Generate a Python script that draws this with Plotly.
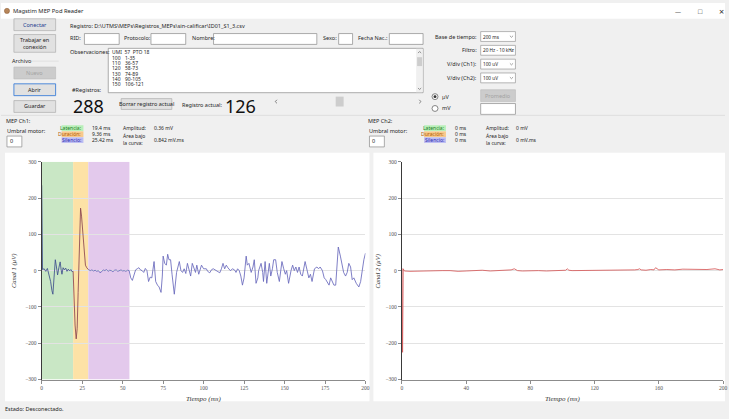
import plotly.graph_objects as go

W, H = 729, 419

# ---------------- data ----------------
t_ch1 = [0, 0.5, 1.5, 2.5, 3.5, 4.5, 5.5, 6.3, 6.9, 7.6, 8.4, 9.1, 9.8, 10.6, 11.4, 12.0, 12.5, 13.2,
         14.0, 14.8, 15.6, 16.4, 17.2, 18.0, 18.8, 19.4,
         20.0, 20.6, 21.3, 21.9, 22.5, 23.2, 24.0, 24.6, 25.4, 26.2, 27.0, 27.8, 28.8,
         30, 31, 32, 33, 34, 35, 36, 37, 38, 39, 40, 41, 42, 43, 44, 45, 46, 47, 48, 49, 50, 51, 52, 53, 54,
         55, 56, 57, 58, 59, 60, 61, 62, 63, 64, 65, 66, 67, 68, 69.4, 70.4, 71.5, 72.5, 73.7, 74.5, 75, 76,
         77, 77.8, 78.6, 79.6, 80.5, 81.9, 83.3, 84.2, 85, 86, 87, 88, 89, 90, 91, 92, 93, 94, 95, 95.8, 97,
         98.7, 100, 101.7, 102.5, 103.8, 105, 106, 107.9, 109, 110, 111, 112, 113, 114, 115, 116.5, 118,
         119.5, 120, 121, 122, 123, 124, 125, 126.3, 127, 128, 129.4, 130.5, 131.3, 132.4, 133.5, 134,
         135.5, 136.5, 137, 138, 139, 140.6, 141.5, 142.5, 143.3, 144.5, 145.5, 146.8, 148.4, 149.5, 150.5,
         151.3, 152.5, 154, 155, 156, 157, 158, 159, 160, 161, 162.7, 164, 165, 166, 167, 168.5, 170, 171,
         172, 173.4, 174.5, 175.5, 177.5, 178.5, 179.5, 180.5, 181.6, 183.2, 184.5, 185.5, 186.5, 187.7,
         188.7, 189.7, 190.8, 191.8, 192.8, 194.3, 195.9, 197, 197.9, 199, 200]
v_ch1 = [235, 3, 5, -2, 6, -10, -30, -55, -65, -20, 30, 10, -12, 8, 24, 2, -10, 8,
         2, 7, -2, 4, -1, 3, -3, -2,
         -80, -150, -188, -160, -60, 60, 172, 150, 100, 40, 15, 8, 3,
         0, 2, -1, 1, -2, 0, -6, -3, 2, 0, 3, -2, 1, 0, -3, 1, 2, -2, 0, 2, -1, 0, -2, 1, 0,
         -20, -27, -10, 2, 5, 8, 2, 0, -5, 6, 0, -30, -18, -20, 25, -30, -40, -45, -60, -15, 40, 20,
         15, 45, 30, 30, -10, -65, -5, 15, 25, 0, -5, 5, -8, 20, 5, -15, 20, 8, -5, 15, -10,
         15, 5, 5, -2, -6, 3, 5, 0, -2, -6, 5, 20, 5, 15, 8, 0, 5,
         0, -5, 5, 0, -15, -40, -20, 40, 15, 20, -5, 10, 30, -35, -20, 0,
         20, -5, -30, 25, -35, 20, -15, 5, 30, 30, -5, -30, 25, 5, -10,
         0, -35, 0, 15, 0, 10, -5, 10, -10, -15, 25, -5, -20, -10, -30, 5, 10, 5,
         10, 0, -20, -25, -40, -20, -30, -40, -40, 65, 40, 20, -5, -15,
         -5, 20, 10, -25, -20, -35, -45, -30, 0, 30, 48]

t_ch2 = [0, 0.4, 0.8, 1.5, 5, 10, 15, 20, 25, 30, 35, 40, 45, 50, 55, 60, 65, 68, 70, 72, 75, 80, 85,
         90, 95, 100, 102, 103, 104, 106, 110, 115, 120, 125, 130, 135, 140, 145, 147, 148, 149, 152,
         155, 157, 158, 160, 165, 170, 175, 180, 185, 190, 195, 198, 200]
v_ch2 = [6, -225, 5, -1, -2, -1, 0, 1, 0, 0, -2, -1, 0, 1, -1, 0, 1, 2, 5, 0, -1, 0, 0,
         -1, 0, 0, 1, 5, 1, 0, 0, 1, 0, 0, 1, 0, 1, 2, 3, 5, 2, 1,
         3, 2, 8, 2, 3, 2, 4, 3, 3, 3, 5, 2, 3]

latencia_ms = 19.4
duracion_ms = 9.36
silencio_ms = 25.42

x1_ticks = [0, 25, 50, 75, 100, 125, 150, 175, 200]
x2_ticks = [0, 40, 80, 120, 160, 200]
y_ticks = [-300, -200, -100, 0, 100, 200, 300]

obs_lines = [("UMI  57  PTO 18", ""), ("100", "1-35"), ("110", "36-57"), ("120", "58-73"),
             ("130", "74-89"), ("140", "90-105"), ("150", "106-121")]

# ---------------- helpers ----------------
UI = "Noto Sans"
SERIF = "Liberation Serif"
shapes, ann = [], []


def PX(x):
    return x / W


def PY(y):
    return 1 - y / H


def rect(x0, y0, x1, y1, fill="white", line="#8a8a8a", lw=0.7):
    shapes.append(dict(type="rect", xref="paper", yref="paper", x0=PX(x0), x1=PX(x1),
                       y0=PY(y1), y1=PY(y0), fillcolor=fill,
                       line=dict(color=line, width=lw), layer="below"))


def circ(x, y, r, fill="white", line="#555", lw=0.7):
    shapes.append(dict(type="circle", xref="paper", yref="paper", x0=PX(x - r), x1=PX(x + r),
                       y0=PY(y + r), y1=PY(y - r), fillcolor=fill,
                       line=dict(color=line, width=lw), layer="below"))


def hline(x0, x1, y, color="#d4d4d4", lw=0.8):
    shapes.append(dict(type="line", xref="paper", yref="paper", x0=PX(x0), x1=PX(x1),
                       y0=PY(y), y1=PY(y), line=dict(color=color, width=lw), layer="below"))


def chev(x, y, d="down", s=2.0, color="#777"):
    if d == "down":
        p = f"M {PX(x - s)},{PY(y - s / 2)} L {PX(x)},{PY(y + s / 2)} L {PX(x + s)},{PY(y - s / 2)}"
    elif d == "up":
        p = f"M {PX(x - s)},{PY(y + s / 2)} L {PX(x)},{PY(y - s / 2)} L {PX(x + s)},{PY(y + s / 2)}"
    elif d == "left":
        p = f"M {PX(x + s / 2)},{PY(y - s)} L {PX(x - s / 2)},{PY(y)} L {PX(x + s / 2)},{PY(y + s)}"
    else:
        p = f"M {PX(x - s / 2)},{PY(y - s)} L {PX(x + s / 2)},{PY(y)} L {PX(x - s / 2)},{PY(y + s)}"
    shapes.append(dict(type="path", xref="paper", yref="paper", path=p,
                       line=dict(color=color, width=0.8), layer="below"))


def txt(x, y, s, size=5.5, color="#1e1e1e", anchor="left", family=UI, angle=0, bg=None):
    d = dict(x=PX(x), y=PY(y), xref="paper", yref="paper", text=s, showarrow=False,
             xanchor=anchor, yanchor="middle", textangle=angle, borderpad=0,
             font=dict(family=family, size=size, color=color))
    if bg:
        d["bgcolor"] = bg
    ann.append(d)


def button(x0, y0, x1, y1, label, disabled=False, focus=False, label_color="#1e1e1e"):
    if disabled:
        rect(x0, y0, x1, y1, fill="#cccccc", line="#bfbfbf")
        label_color = "#a3a3a3"
    else:
        rect(x0, y0, x1, y1, fill="#e1e1e1", line="#3c7fd8" if focus else "#adadad", lw=0.9 if focus else 0.7)
    txt((x0 + x1) / 2, (y0 + y1) / 2, label, color=label_color, anchor="center")


def combo(x0, y0, x1, y1, label):
    rect(x0, y0, x1, y1, fill="white", line="#9a9a9a")
    txt(x0 + 1.5, (y0 + y1) / 2, label, size=4.7)
    chev(x1 - 4, (y0 + y1) / 2, "down", 1.6, "#888")


# ---------------- window chrome ----------------
rect(0, 0, W, 16, fill="white", line="white", lw=0)
circ(6, 8, 2.6, fill="#b7865a", line="#8a5a30", lw=0.5)
txt(11, 8, "Magstim MEP Pod Reader", size=5.8)
txt(682, 9, "—", size=6, color="#333", anchor="center")
txt(704, 9, "□", size=7, color="#333", anchor="center")
txt(725, 9, "×", size=9, color="#333", anchor="center")

# left button column
button(13, 16, 55, 28, "Conectar", focus=False, label_color="#1b3d8f")
rect(13, 32, 55, 50, fill="#e1e1e1", line="#adadad")
txt(34, 41, "Trabajar en<br>conexión", anchor="center")
txt(10, 59, "Archivo")
hline(30, 58, 59, color="#dcdcdc")
button(13, 65, 55, 77, "Nuevo", disabled=True)
button(13, 82, 55, 94, "Abrir", focus=True)
button(13, 99, 55, 111, "Guardar")

# top fields
txt(68, 23, "Registro: D:\\UTMS\\MEPs\\Registros_MEPs\\sin-calificar\\ID01_S1_3.csv")
txt(68, 36, "RID:")
rect(84, 31, 119, 42)
txt(123, 36, "Protocolo:")
rect(151, 31, 186, 42)
txt(191, 36, "Nombre:")
rect(214, 31, 318, 42)
txt(323, 36, "Sexo:")
rect(340, 31, 354, 42)
txt(358, 36, "Fecha Nac.:")
rect(391, 31, 425, 42)

txt(68, 50, "Observaciones:")
rect(108, 46, 425, 91)
rect(418, 46.5, 424.6, 90.5, fill="#f0f0f0", line="#f0f0f0", lw=0)
rect(419, 55, 424, 64, fill="#cdcdcd", line="#cdcdcd", lw=0)
chev(421.5, 50, "up", 1.6, "#777")
chev(421.5, 87, "down", 1.6, "#777")
for i, (a, b) in enumerate(obs_lines):
    yy = 50 + i * 5.4
    txt(111, yy, a, size=5)
    if b:
        txt(124, yy, b, size=5)

txt(70, 88, "#Registros:")
txt(71, 104.5, "288", size=18, color="#111")
button(121, 97, 172, 108, "Borrar registro actual")
txt(181, 103, "Registro actual:")
txt(225, 104.5, "126", size=18, color="#111")
chev(277, 100, "left", 1.8, "#666")
rect(337, 95, 345, 105, fill="#cdcdcd", line="#cdcdcd", lw=0)
chev(422, 100, "right", 1.8, "#666")

# right controls
txt(480, 34, "Base de tiempo:", anchor="right")
combo(483, 29, 518, 39, "200 ms")
txt(480, 48, "Filtro:", anchor="right")
combo(483, 43, 518, 53, "20 Hz - 10 kHz")
txt(480, 62, "V/div (Ch1):", anchor="right")
combo(483, 57, 518, 67, "100 uV")
txt(480, 76, "V/div (Ch2):", anchor="right")
combo(483, 71, 518, 81, "100 uV")
circ(437, 95, 3.0)
circ(437, 95, 1.5, fill="#333", line="#333", lw=0)
txt(443, 95, "µV")
circ(437, 107, 3.0)
txt(443, 107, "mV")
button(483, 88, 518, 100, "Promedio", disabled=True)
rect(483, 102, 518, 113)

hline(0, W, 114, color="#dadada")


# MEP info blocks
def mep_block(x, name, lat, dur, sil, amp, area):
    txt(x, 120, name)
    txt(x + 1, 130, "Umbral motor:")
    rect(x + 2, 135, x + 17, 146)
    txt(x + 4, 140.5, "0")
    bx = x + 57
    rect(bx, 124, bx + 22, 130, fill="#b9f0b9", line="#b9f0b9", lw=0)
    txt(bx + 21, 127, "Latencia:", size=5, color="#1f7a1f", anchor="right")
    rect(bx, 130.2, bx + 22, 136, fill="#f8c98b", line="#f8c98b", lw=0)
    txt(bx + 21, 133, "Duración:", size=5, color="#b05a00", anchor="right")
    rect(bx, 136.2, bx + 22, 142, fill="#bcbcf2", line="#bcbcf2", lw=0)
    txt(bx + 21, 139, "Silencio:", size=5, color="#2a2ab0", anchor="right")
    txt(bx + 30, 127, lat, size=5)
    txt(bx + 30, 133, dur, size=5)
    txt(bx + 30, 139, sil, size=5)
    ax = x + 118
    txt(ax, 127, "Amplitud:", size=5)
    txt(ax + 31, 127, amp, size=5)
    txt(ax, 135, "Área bajo", size=5)
    txt(ax, 142, "la curva:", size=5)
    txt(ax + 31, 139, area, size=5)


mep_block(4, "MEP Ch1:", f"{latencia_ms} ms", f"{duracion_ms} ms", f"{silencio_ms} ms", "0.36 mV", "0.842 mV.ms")
mep_block(369, "MEP Ch2:", "0 ms", "0 ms", "0 ms", "0 mV", "0 mV.ms")

# chart panels
rect(4, 152, 371, 404, fill="white", line="white", lw=0)
rect(375, 152, W, 404, fill="white", line="white", lw=0)

txt(3, 411.5, "Estado: Desconectado.", size=5.5)

# shading for MEP windows (data coords)
t_a = latencia_ms
t_b = latencia_ms + duracion_ms
t_c = t_b + silencio_ms
for x0, x1, col in [(0, t_a, "#c9e7c5"), (t_a, t_b, "#fde2a6"), (t_b, t_c, "#e3c9ec")]:
    shapes.append(dict(type="rect", xref="x", yref="y", x0=x0, x1=x1, y0=-300, y1=300,
                       fillcolor=col, line=dict(width=0), layer="below"))

# axis titles
txt(13, 272, "<i>Canal 1 (µV)</i>", size=6.5, color="#333", family=SERIF, anchor="center", angle=-90)
txt(204, 402, "<i>Tiempo (ms)</i>", size=7, color="#333", family=SERIF, anchor="center")
txt(380, 272, "<i>Canal 2 (µV)</i>", size=6.5, color="#333", family=SERIF, anchor="center", angle=-90)
txt(565, 402, "<i>Tiempo (ms)</i>", size=7, color="#333", family=SERIF, anchor="center")


# ---------------- traces ----------------
def seg(lo, hi):
    xs, ys = [], []
    for t, v in zip(t_ch1, v_ch1):
        if lo <= t <= hi:
            xs.append(t)
            ys.append(v)
    return xs, ys


fig = go.Figure()
for (lo, hi), col in [((0, t_a), "#3f4f8c"), ((t_a, t_b + 0.1), "#8a4550"), ((t_b, 200), "#6868bc")]:
    xs, ys = seg(lo, hi)
    fig.add_trace(go.Scatter(x=xs, y=ys, mode="lines", line=dict(color=col, width=0.85),
                             xaxis="x", yaxis="y", hoverinfo="skip", showlegend=False))
fig.add_trace(go.Scatter(x=t_ch2, y=v_ch2, mode="lines", line=dict(color="#d65a5a", width=0.85),
                         xaxis="x2", yaxis="y2", hoverinfo="skip", showlegend=False))

ydom = [1 - 382 / H, 1 - 161 / H]
tickfont = dict(family=SERIF, size=5.5, color="#555")
common_x = dict(showgrid=False, zeroline=False, showline=True, linecolor="#8c8c8c", linewidth=1,
                ticks="outside", ticklen=3, tickcolor="#8c8c8c", tickfont=tickfont, range=[0, 200],
                fixedrange=True)
common_y = dict(showgrid=True, gridcolor="#e3e3e3", gridwidth=1, zeroline=False, showline=True,
                linecolor="#3a3a3a", linewidth=1, ticks="outside", ticklen=3, tickcolor="#8c8c8c",
                tickfont=tickfont, range=[-300, 300], tickvals=y_ticks, fixedrange=True)

fig.update_layout(
    width=W, height=419, autosize=False,
    margin=dict(l=0, r=0, t=0, b=0, pad=0),
    paper_bgcolor="#f0f0f0", plot_bgcolor="white",
    showlegend=False,
    xaxis=dict(domain=[41 / W, 367 / W], anchor="y", tickvals=x1_ticks, **common_x),
    yaxis=dict(domain=ydom, anchor="x", **common_y),
    xaxis2=dict(domain=[403.7 / W, 727 / W], anchor="y2", tickvals=x2_ticks, **common_x),
    yaxis2=dict(domain=ydom, anchor="x2", **common_y),
    shapes=shapes,
    annotations=ann,
)

fig.write_html("out.html", config={"displayModeBar": False},
               post_script="document.body.style.margin='0px';document.body.style.overflow='hidden';")
